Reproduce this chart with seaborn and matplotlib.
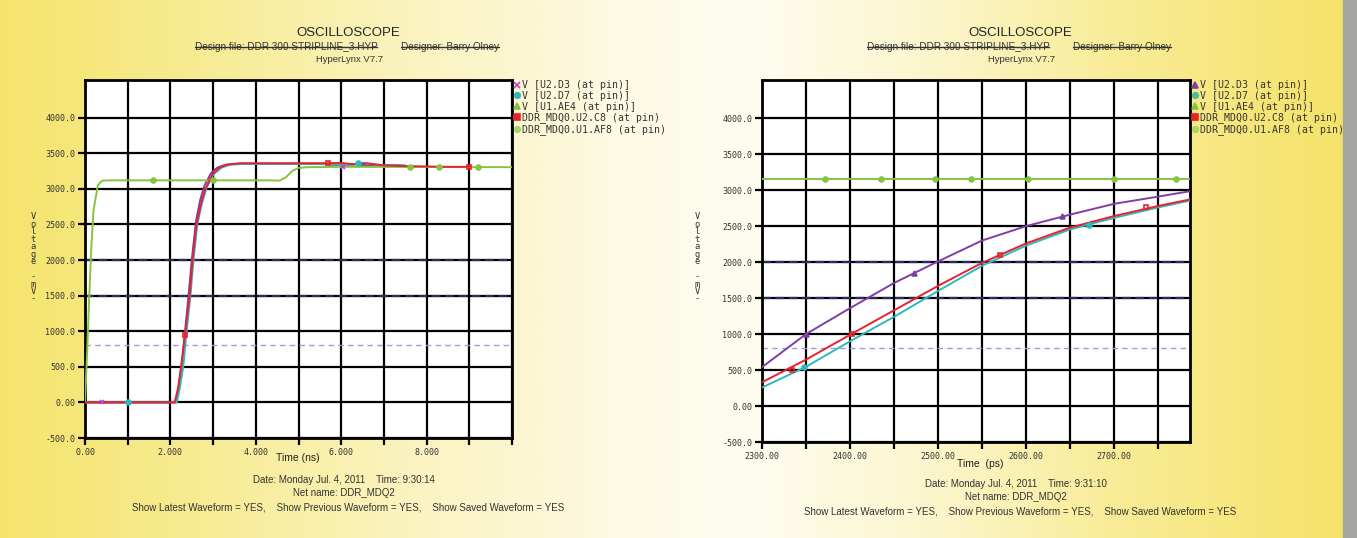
import numpy as np
import matplotlib.pyplot as plt
import seaborn as sns
from matplotlib.lines import Line2D
from matplotlib.patches import Rectangle
from matplotlib.colors import LinearSegmentedColormap

# ---- left scope: full edge, time in ns ----
left_t_d3 = [0.0, 2.12, 2.2, 2.28, 2.36, 2.44, 2.5, 2.6, 2.7, 2.8, 2.95, 3.1, 3.3, 3.6,
             5.5, 5.8, 6.0, 6.3, 6.6, 7.0, 7.45]
left_v_d3 = [0, 0, 250, 600, 1100, 1600, 2000, 2550, 2850, 3050, 3220, 3300, 3340, 3355,
             3355, 3340, 3310, 3350, 3330, 3335, 3330]
left_t_d7 = [0.0, 2.15, 2.22, 2.3, 2.38, 2.47, 2.54, 2.63, 2.74, 2.85, 3.0, 3.2, 3.4, 3.7,
             5.5, 6.2, 6.5, 6.8, 7.1, 7.5]
left_v_d7 = [0, 0, 200, 500, 1000, 1500, 2000, 2500, 2800, 3020, 3200, 3300, 3340, 3350,
             3350, 3330, 3365, 3340, 3330, 3330]
left_t_c8 = [0.0, 2.1, 2.18, 2.25, 2.35, 2.45, 2.52, 2.61, 2.72, 2.82, 2.98, 3.15, 3.32, 3.64,
             5.5, 6.0, 6.3, 6.6, 7.0, 7.5, 8.5, 9.0]
left_v_c8 = [0, 0, 200, 500, 1000, 1500, 2000, 2500, 2800, 3000, 3200, 3300, 3340, 3360,
             3360, 3365, 3345, 3360, 3330, 3320, 3310, 3310]
left_t_ae4 = [0.0, 0.05, 0.1, 0.15, 0.2, 0.3, 0.4, 0.6, 4.4, 4.55, 4.7, 4.85, 5.0, 5.2, 6.0, 10.0]
left_v_ae4 = [0, 700, 1500, 2200, 2700, 3050, 3115, 3120, 3120, 3115, 3160, 3250, 3295, 3305, 3310, 3305]

# marker positions (ns, mV)
left_mk_d3 = ([0.4, 6.05], [0, 3305])
left_mk_d7 = ([1.0, 6.4], [0, 3360])
left_mk_c8 = ([2.35, 5.7, 9.0], [950, 3360, 3310])
left_mk_ae4 = ([1.6, 3.0, 7.6, 8.3, 9.2], [3120, 3120, 3310, 3305, 3305])

# ---- right scope: zoom on the edge, time in ps ----
right_t = [2300, 2350, 2400, 2450, 2500, 2550, 2600, 2650, 2700, 2750, 2786]
right_v_d3 = [540, 1000, 1360, 1710, 2010, 2300, 2500, 2660, 2810, 2910, 2985]
right_v_d7 = [257, 545, 900, 1240, 1600, 1950, 2230, 2455, 2615, 2760, 2855]
right_v_c8 = [330, 645, 990, 1330, 1670, 1990, 2260, 2480, 2640, 2780, 2870]
right_v_ae4 = [3150, 3150, 3150, 3150, 3150, 3150, 3150, 3150, 3150, 3150, 3150]

right_mk_d3 = ([2350, 2473, 2641], [1000, 1850, 2640])
right_mk_d7 = ([2348, 2671], [540, 2515])
right_mk_c8 = ([2334, 2402, 2570, 2736], [500, 1000, 2100, 2760])
right_mk_ae4 = ([2371, 2435, 2497, 2537, 2602, 2700, 2770], [3150] * 7)

legend_labels = ["V [U2.D3 (at pin)]", "V [U2.D7 (at pin)]", "V [U1.AE4 (at pin)]",
                 "DDR_MDQ0.U2.C8 (at pin)", "DDR_MDQ0.U1.AF8 (at pin)"]

y_ticks = [-500, 0, 500, 1000, 1500, 2000, 2500, 3000, 3500, 4000]
y_ticklabels = ["-500.0", "0.00", "500.0", "1000.0", "1500.0", "2000.0",
                "2500.0", "3000.0", "3500.0", "4000.0"]
left_xticks = [0, 1, 2, 3, 4, 5, 6, 7, 8, 9, 10]
left_xticklabels = ["0.00", "", "2.000", "", "4.000", "", "6.000", "", "8.000", "", ""]
right_xticks = [2300, 2350, 2400, 2450, 2500, 2550, 2600, 2650, 2700, 2750]
right_xticklabels = ["2300.00", "", "2400.00", "", "2500.00", "", "2600.00", "", "2700.00", ""]

ref_levels = [2000, 1500]
vref_level = 800

PURPLE = "#7d3fa6"
CYAN = "#2fb8bc"
RED = "#e8222c"
GREEN = "#84c441"
MONO = "DejaVu Sans Mono"

sns.set_style("white")
plt.rcParams['font.family'] = ['Liberation Sans', 'DejaVu Sans']

fig = plt.figure(figsize=(13.57, 5.38), dpi=100)

# yellow paper background
bg = fig.add_axes([0, 0, 1, 1], zorder=-10)
cmap = LinearSegmentedColormap.from_list("paper", [
    (0.0, "#f5e46c"), (0.12, "#f7ea8c"), (0.3, "#fbf3bf"), (0.45, "#fdf9e2"),
    (0.55, "#fefdf0"), (0.68, "#fcf6cf"), (0.82, "#f9ec98"), (1.0, "#f4e266")])
bg.imshow(np.linspace(0, 1, 800)[None, :], cmap=cmap, aspect='auto', extent=[0, 1, 0, 1])
bg.add_patch(Rectangle((1343 / 1357, 0), 14 / 1357, 1, color="#a4a4a0"))
bg.set_xlim(0, 1)
bg.set_ylim(0, 1)
bg.axis('off')


def draw_scope(rect, series, markers, xlim, xticks, xticklabels, legend_markers, legend_xy):
    ax = fig.add_axes(rect)
    ax.set_facecolor("white")
    for (x, y, color) in series:
        sns.lineplot(x=x, y=y, ax=ax, color=color, lw=1.4, estimator=None,
                     sort=False, legend=False, zorder=3)
    for (pts, color, mk) in markers:
        ax.plot(pts[0], pts[1], linestyle='none', marker=mk, color=color,
                markersize=3.5, mew=1.2, mfc='none' if mk == 's' else color, zorder=4)
    for lvl in ref_levels:
        ax.axhline(lvl, color="#2b2b5e", lw=1.6, ls=(0, (4, 2)), zorder=2)
    ax.axhline(vref_level, color="#a49ad8", lw=1.0, ls=(0, (4, 3)), zorder=2)
    ax.set_xlim(*xlim)
    ax.set_ylim(-500, 4530)
    ax.set_xticks(xticks)
    ax.set_xticklabels(xticklabels, fontfamily=MONO, fontsize=6, color="#333333")
    ax.set_yticks(y_ticks)
    ax.set_yticklabels(y_ticklabels, fontfamily=MONO, fontsize=6, color="#333333")
    ax.grid(True, color="black", lw=1.6)
    ax.set_axisbelow(True)
    for sp in ax.spines.values():
        sp.set_color("black")
        sp.set_linewidth(2)
    ax.tick_params(length=5, width=1.6, color="black", pad=2, bottom=True, left=True)
    ax.set_xlabel("")
    ax.set_ylabel("")
    handles = [Line2D([], [], linestyle='none', marker=m, color=c, markersize=4, mew=1.2)
               for m, c in legend_markers]
    fig.legend(handles, legend_labels, loc='upper left', bbox_to_anchor=legend_xy,
               frameon=False, prop={'family': MONO, 'size': 7.1}, labelcolor="#333333",
               handlelength=0.6, handletextpad=0.2, labelspacing=0.08, borderpad=0,
               borderaxespad=0)
    return ax


W, H = 1357, 538


def fx(px):
    return px / W


def fy(py):
    return 1 - py / H


draw_scope([fx(85), fy(438), fx(427), 358 / H],
           [(left_t_d3, left_v_d3, PURPLE), (left_t_d7, left_v_d7, CYAN),
            (left_t_ae4, left_v_ae4, GREEN), (left_t_c8, left_v_c8, RED)],
           [(left_mk_d3, "#c53fc8", 'x'), (left_mk_d7, CYAN, 'o'),
            (left_mk_ae4, GREEN, 'o'), (left_mk_c8, RED, 's')],
           (0, 10), left_xticks, left_xticklabels,
           [('x', "#c53fc8"), ('o', CYAN), ('^', GREEN), ('s', RED), ('o', "#a8d468")],
           (fx(514), fy(80)))

draw_scope([fx(762), fy(442), fx(428), 362 / H],
           [(right_t, right_v_ae4, GREEN), (right_t, right_v_d7, CYAN),
            (right_t, right_v_c8, RED), (right_t, right_v_d3, PURPLE)],
           [(right_mk_d3, PURPLE, '^'), (right_mk_d7, CYAN, 'o'),
            (right_mk_ae4, GREEN, 'o'), (right_mk_c8, RED, 's')],
           (2300, 2786), right_xticks, right_xticklabels,
           [('^', PURPLE), ('o', "#4cbf9a"), ('^', GREEN), ('s', RED), ('o', "#a8d468")],
           (fx(1192), fy(80)))

# headers, axis labels and footers
struck = []
for cx, time_str, x_label, xl_x, xl_y, dy in [
        (348, "9:30:14", "Time (ns)", 298, 458, 0),
        (1020, "9:31:10", "Time  (ps)", 980, 464, 4)]:
    fig.text(fx(cx), fy(33), "OSCILLOSCOPE", ha='center', va='center', fontsize=9.5, color="#222222")
    struck.append(fig.text(fx(cx - 62), fy(47), "Design file: DDR 300 STRIPLINE_3.HYP",
                           ha='center', va='center', fontsize=7.2, color="#333333"))
    struck.append(fig.text(fx(cx + 102), fy(47), "Designer: Barry Olney",
                           ha='center', va='center', fontsize=7.2, color="#333333"))
    fig.text(fx(cx + 2), fy(60), "HyperLynx V7.7", ha='center', va='center', fontsize=6.8,
             color="#333333")
    fig.text(fx(xl_x), fy(xl_y), x_label, ha='center', va='center', fontsize=7.5, color="#222222")
    fig.text(fx(cx - 4), fy(480 + dy), "Date: Monday Jul. 4, 2011    Time: " + time_str,
             ha='center', va='center', fontsize=7, color="#333333")
    fig.text(fx(cx - 4), fy(493 + dy), "Net name: DDR_MDQ2", ha='center', va='center',
             fontsize=7, color="#333333")
    fig.text(fx(cx), fy(507 + dy),
             "Show Latest Waveform = YES,    Show Previous Waveform = YES,    Show Saved Waveform = YES",
             ha='center', va='center', fontsize=7, color="#333333")

for x_px in [33, 697]:
    fig.text(fx(x_px), fy(258), "\n".join("Voltage -mV-"), ha='center', va='center',
             fontsize=6.3, linespacing=0.78, color="#333333", fontfamily=MONO)

fig.canvas.draw()
renderer = fig.canvas.get_renderer()
for t in struck:
    bb = t.get_window_extent(renderer).transformed(fig.transFigure.inverted())
    ymid = (bb.y0 + bb.y1) / 2
    fig.add_artist(Line2D([bb.x0, bb.x1], [ymid, ymid], transform=fig.transFigure,
                          color="#333333", lw=1.0))

fig.savefig("out.png", dpi=100)
